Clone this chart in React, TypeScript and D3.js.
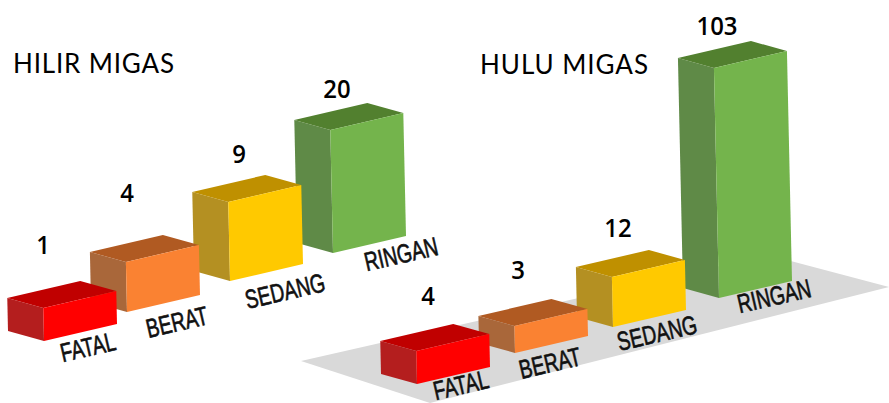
import React from "react";
import * as d3 from "d3";

const categories = ["FATAL", "BERAT", "SEDANG", "RINGAN"];
const hilirValues = [1, 4, 9, 20];
const huluValues = [4, 3, 12, 103];
const titles = ["HILIR MIGAS", "HULU MIGAS"];

const frontColors = ["#ff0000", "#fa8232", "#ffc900", "#74b44c"];
const topColors = ["#c00000", "#b05a22", "#bf9000", "#52802f"];
const sideColors = ["#b41e1e", "#a9673a", "#b49022", "#5f8a47"];

type Panel = {
  values: number[];
  height: (v: number) => number;
  baseX: d3.ScaleOrdinal<string, number>;
  baseY: d3.ScaleOrdinal<string, number>;
  labelX: d3.ScaleOrdinal<string, number>;
  labelY: d3.ScaleOrdinal<string, number>;
  valueX: d3.ScaleOrdinal<string, number>;
  valueY: d3.ScaleOrdinal<string, number>;
};

const ord = (r: number[]) => d3.scaleOrdinal<string, number>().domain(categories).range(r);

const panels: Panel[] = [
  {
    values: hilirValues,
    height: d3.scaleLinear().domain([1, 4, 9, 20]).range([33, 50, 79, 123]),
    baseX: ord([44, 127, 230, 333]),
    baseY: ord([341, 312, 281, 253]),
    labelX: ord([88, 177, 285, 401]),
    labelY: ord([347, 322, 291, 254]),
    valueX: ord([43, 127, 239, 337]),
    valueY: ord([244, 192, 153, 88]),
  },
  {
    values: huluValues,
    height: d3.scaleLinear().domain([3, 4, 12, 103]).range([27, 33, 50, 230]),
    baseX: ord([417, 515, 613, 719]),
    baseY: ord([384, 353, 327, 298]),
    labelX: ord([461, 550, 657, 774]),
    labelY: ord([385, 363, 333, 296]),
    valueX: ord([428, 518, 618, 717]),
    valueY: ord([295, 269, 227, 25]),
  },
];

const floor: [number, number][] = [
  [301, 361],
  [768, 255],
  [889, 287],
  [430, 403],
];

const widthVec: [number, number] = [73, -17];
const depthVec: [number, number] = [-36, -10];
const lean = 0.022;

const poly = d3
  .line<[number, number]>()
  .x((d) => d[0])
  .y((d) => d[1]);
const closed = (p: [number, number][]) => poly(p) + "Z";
const add = (a: [number, number], b: [number, number]): [number, number] => [a[0] + b[0], a[1] + b[1]];

function Bar({ panel, i }: { panel: Panel; i: number }) {
  const c = categories[i];
  const h = panel.height(panel.values[i]);
  const fb: [number, number] = [panel.baseX(c), panel.baseY(c)];
  const ft: [number, number] = [fb[0] - h * lean, fb[1] - h];
  const rb = add(fb, widthVec);
  const rt = add(ft, widthVec);
  const lb = add(fb, depthVec);
  const lt = add(ft, depthVec);
  const bt = add(lt, widthVec);
  return (
    <g>
      <path d={closed([lt, ft, fb, lb])} fill={sideColors[i]} />
      <path d={closed([lt, bt, rt, ft])} fill={topColors[i]} />
      <path d={closed([ft, rt, rb, fb])} fill={frontColors[i]} />
    </g>
  );
}

export default function App() {
  return (
    <svg
      width={889}
      height={403}
      viewBox="0 0 889 403"
      style={{ position: "absolute", left: 0, top: 0, background: "#fff" }}
    >
      <path d={closed(floor)} fill="#d9d9d9" />
      {panels.map((p, k) => (
        <g key={k}>
          {[3, 2, 1, 0].map((i) => (
            <Bar key={i} panel={p} i={i} />
          ))}
          {categories.map((c) => (
            <text
              key={c}
              transform={`translate(${p.labelX(c)},${p.labelY(c)}) rotate(-13) scale(0.8,1.1)`}
              textAnchor="middle"
              dominantBaseline="central"
              fontFamily="'Liberation Sans',sans-serif"
              fontSize={24}
              fill="#111"
              stroke="#111"
              strokeWidth={0.6}
            >
              {c}
            </text>
          ))}
          {categories.map((c, i) => (
            <text
              key={c}
              transform={`translate(${p.valueX(c)},${p.valueY(c)}) scale(0.92,1)`}
              textAnchor="middle"
              dominantBaseline="central"
              fontFamily="'Open Sans',sans-serif"
              fontWeight={600}
              fontSize={26}
              fill="#000"
            >
              {p.values[i]}
            </text>
          ))}
        </g>
      ))}
      <text x={13} y={73} fontFamily="Lato,sans-serif" fontSize={26} textLength={161} fill="#000">
        {titles[0]}
      </text>
      <text x={480} y={74} fontFamily="Lato,sans-serif" fontSize={26} textLength={168} fill="#000">
        {titles[1]}
      </text>
    </svg>
  );
}
